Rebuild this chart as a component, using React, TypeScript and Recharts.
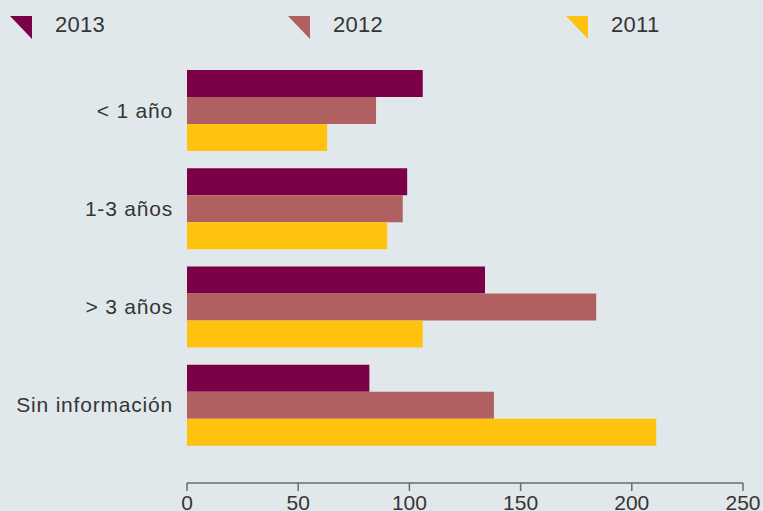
import { BarChart, Bar, XAxis, YAxis } from "recharts";

const categories = ["< 1 año", "1-3 años", "> 3 años", "Sin información"];
const values2013 = [106, 99, 134, 82];
const values2012 = [85, 97, 184, 138];
const values2011 = [63, 90, 106, 211];
const xTicks = [0, 50, 100, 150, 200, 250];

const series = [
  { key: "y2013", label: "2013", color: "#7B0046", values: values2013 },
  { key: "y2012", label: "2012", color: "#B06060", values: values2012 },
  { key: "y2011", label: "2011", color: "#FFC20E", values: values2011 },
];

const data = categories.map((name, i) => ({
  name,
  y2013: values2013[i],
  y2012: values2012[i],
  y2011: values2011[i],
}));

const BG = "#E0E8EB";
const TEXT = "#353535";
const AXIS = "#6B6B6B";
const FONT = '"Liberation Sans", Arial, Helvetica, sans-serif';

function LegendRow() {
  return (
    <div style={{ position: "absolute", left: 0, top: 0, width: 763, height: 50 }}>
      {series.map((s, i) => (
        <div key={s.key} style={{ position: "absolute", left: 10 + i * 278, top: 16 }}>
          <svg width={22} height={23} style={{ position: "absolute", left: 0, top: 0 }}>
            <polygon points="0,0 22,0 22,23" fill={s.color} />
          </svg>
          <span
            style={{
              position: "absolute",
              left: 45,
              top: -3,
              fontFamily: FONT,
              fontSize: 22,
              letterSpacing: 0.3,
              color: TEXT,
              lineHeight: "24px",
            }}
          >
            {s.label}
          </span>
        </div>
      ))}
    </div>
  );
}

export default function App() {
  return (
    <div
      style={{
        position: "absolute",
        left: 0,
        top: 0,
        width: 763,
        height: 511,
        background: BG,
        overflow: "hidden",
        fontFamily: FONT,
      }}
    >
      <LegendRow />
      <BarChart
        width={763}
        height={511}
        data={data}
        layout="vertical"
        margin={{ top: 61, right: 20, bottom: 0, left: 0 }}
        barCategoryGap={9}
        barGap={0}
      >
        <XAxis
          type="number"
          domain={[0, 250]}
          ticks={xTicks}
          height={28}
          stroke={AXIS}
          tickSize={8}
          tickMargin={4}
          tick={{ fill: TEXT, fontSize: 21, fontFamily: FONT }}
          axisLine={{ stroke: AXIS, strokeWidth: 1.5 }}
          tickLine={{ stroke: AXIS, strokeWidth: 1.5 }}
        />
        <YAxis
          type="category"
          dataKey="name"
          width={187}
          padding={{ top: 0, bottom: 29 }}
          axisLine={false}
          tickLine={false}
          tickSize={0}
          tickMargin={14}
          tick={{ fill: TEXT, fontSize: 21, fontFamily: FONT, letterSpacing: 0.8 }}
        />
        {series.map((s) => (
          <Bar key={s.key} dataKey={s.key} fill={s.color} isAnimationActive={false} />
        ))}
      </BarChart>
    </div>
  );
}
